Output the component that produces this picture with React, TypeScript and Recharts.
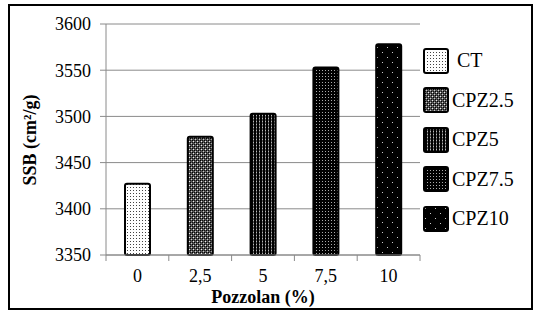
import React from 'react';
import { BarChart, Bar, Cell, XAxis, YAxis, CartesianGrid, Label } from 'recharts';

const categories = ['0', '2,5', '5', '7,5', '10'];
const seriesNames = ['CT', 'CPZ2.5', 'CPZ5', 'CPZ7.5', 'CPZ10'];
const ssbValues = [3427, 3478, 3503, 3553, 3578];
const yTicks = [3350, 3400, 3450, 3500, 3550, 3600];

const data = categories.map((c, i) => ({ name: c, ssb: ssbValues[i] }));

const W = 534;
const H = 311;
const margin = { top: 24, right: 114, bottom: 0, left: 0 };
const yAxisW = 106;
const bandW = (W - margin.left - margin.right - yAxisW) / categories.length;
const font = "'Times New Roman', Tinos, 'Liberation Serif', serif";
const gridColor = '#8a8a8a';

// hatch patterns, one per bar, shared with the legend squares
const Patterns = () => (
  <svg width={0} height={0} style={{ position: 'absolute' }}>
    <defs>
      <pattern id="p0" width={3} height={3} patternUnits="userSpaceOnUse">
        <rect width={3} height={3} fill="#fff" />
        <rect x={1} y={1} width={1} height={1} fill="#444" />
      </pattern>
      <pattern id="p1" width={4} height={4} patternUnits="userSpaceOnUse">
        <rect width={4} height={4} fill="#555" />
        <rect x={0} y={0} width={1} height={1} fill="#000" />
        <rect x={2} y={2} width={1} height={1} fill="#000" />
        <rect x={2} y={0} width={1} height={1} fill="#111" />
        <rect x={0} y={2} width={1} height={1} fill="#111" />
        <rect x={1} y={1} width={1} height={1} fill="#eee" />
        <rect x={3} y={3} width={1} height={1} fill="#ccc" />
      </pattern>
      <pattern id="p2" width={3} height={3} patternUnits="userSpaceOnUse">
        <rect width={3} height={3} fill="#000" />
        <rect x={1} y={0} width={1} height={3} fill="#555" />
        <rect x={1} y={1} width={1} height={1} fill="#bbb" />
      </pattern>
      <pattern id="p3" width={3} height={3} patternUnits="userSpaceOnUse">
        <rect width={3} height={3} fill="#000" />
        <rect x={1} y={1} width={1} height={1} fill="#aaa" />
      </pattern>
      <pattern id="p4" width={10} height={10} patternUnits="userSpaceOnUse">
        <rect width={10} height={10} fill="#000" />
        <rect x={2} y={2} width={1} height={1} fill="#ccc" />
        <rect x={7} y={7} width={1} height={1} fill="#ccc" />
      </pattern>
    </defs>
  </svg>
);

const XTick = (props: any) => {
  const { x, y, payload, index } = props;
  const last = index === categories.length - 1;
  return (
    <g>
      <line x1={x - bandW / 2} y1={y} x2={x - bandW / 2} y2={y + 6} stroke={gridColor} />
      {last && <line x1={x + bandW / 2} y1={y} x2={x + bandW / 2} y2={y + 6} stroke={gridColor} />}
      <text x={x} y={y + 27} textAnchor="middle" fontSize={18} fill="#000" fontFamily={font}>
        {payload.value}
      </text>
    </g>
  );
};

const Legend = () => (
  <div style={{ position: 'absolute', left: 423, top: 41 }}>
    {seriesNames.map((s, i) => (
      <div key={s} style={{ display: 'flex', alignItems: 'center', height: 39.5 }}>
        <svg width={26} height={26}>
          <rect x={1} y={1} width={24} height={24} rx={2} fill={`url(#p${i})`} stroke="#000" strokeWidth={2} />
        </svg>
        <span style={{ fontFamily: font, fontSize: 20, marginLeft: i === 0 ? 8 : 3, color: '#000' }}>{s}</span>
      </div>
    ))}
  </div>
);

export default function App() {
  return (
    <div style={{ position: 'absolute', left: 0, top: 0, width: W, height: H, background: '#fff' }}>
      <Patterns />
      <div
        style={{
          position: 'absolute',
          left: 8,
          top: 4,
          width: 525,
          height: 306,
          border: '2px solid #000',
          boxSizing: 'border-box',
        }}
      />
      <div style={{ position: 'absolute', left: 0, top: 0 }}>
        <BarChart width={W} height={H} data={data} margin={margin}>
          <CartesianGrid vertical={false} stroke={gridColor} />
          <XAxis
            dataKey="name"
            height={56}
            stroke={gridColor}
            tickLine={false}
            tickSize={0}
            tickMargin={0}
            tick={<XTick />}
            interval={0}
          >
            <Label
              content={() => (
                <text x={263} y={303} textAnchor="middle" fontSize={18} fontWeight="bold" fontFamily={font} fill="#000">
                  Pozzolan (%)
                </text>
              )}
            />
          </XAxis>
          <YAxis
            width={yAxisW}
            domain={[3350, 3600]}
            ticks={yTicks}
            interval={0}
            stroke={gridColor}
            tickSize={6}
            tickMargin={9}
            tick={{ fill: '#000', fontSize: 18, fontFamily: font }}
          >
            <Label
              content={() => (
                <text
                  x={30}
                  y={140}
                  transform="rotate(-90 30 140)"
                  textAnchor="middle"
                  dominantBaseline="central"
                  fontSize={18}
                  fontWeight="bold"
                  fontFamily={font}
                  fill="#000"
                >
                  SSB (cm²/g)
                </text>
              )}
            />
          </YAxis>
          <Bar dataKey="ssb" barSize={25} stroke="#000" strokeWidth={2} radius={2} isAnimationActive={false}>
            {data.map((d, i) => (
              <Cell key={d.name} fill={`url(#p${i})`} />
            ))}
          </Bar>
        </BarChart>
      </div>
      <Legend />
    </div>
  );
}
